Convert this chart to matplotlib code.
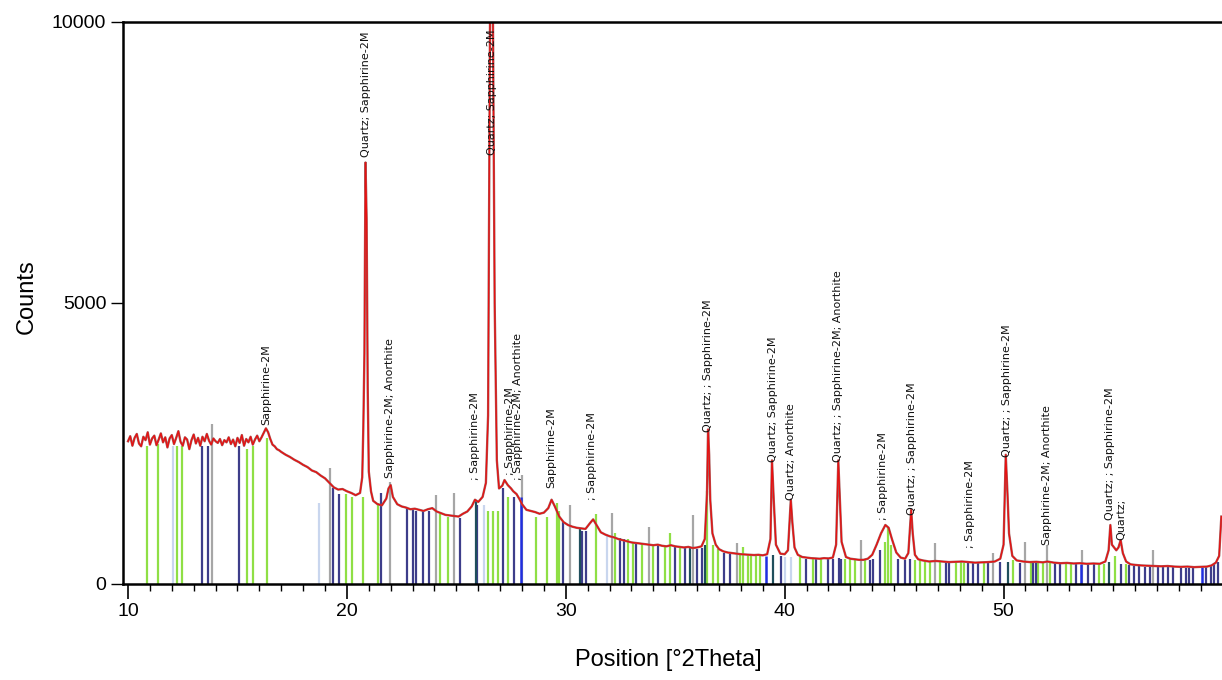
import matplotlib
matplotlib.use("Agg")
import matplotlib.pyplot as plt
from matplotlib.ticker import MultipleLocator, FixedLocator

# Measured profile (position in deg 2Theta, counts)
two_theta = [
    10.0, 10.1, 10.2, 10.3, 10.4, 10.5, 10.6, 10.7, 10.8, 10.9,
    11.0, 11.1, 11.2, 11.3, 11.4, 11.5, 11.6, 11.7, 11.8, 11.9,
    12.0, 12.1, 12.2, 12.3, 12.4, 12.5, 12.6, 12.7, 12.8, 12.9,
    13.0, 13.1, 13.2, 13.3, 13.4, 13.5, 13.6, 13.7, 13.8, 13.9,
    14.0, 14.1, 14.2, 14.3, 14.4, 14.5, 14.6, 14.7, 14.8, 14.9,
    15.0, 15.1, 15.2, 15.3, 15.4, 15.5, 15.6, 15.7, 15.8, 15.9,
    16.0, 16.1, 16.2, 16.3, 16.4, 16.5, 16.6, 16.7, 16.8, 16.9,
    17.0, 17.2, 17.4, 17.6, 17.8, 18.0, 18.2, 18.4, 18.6, 18.8,
    19.0, 19.2, 19.4, 19.6, 19.8, 20.0, 20.2, 20.4, 20.6, 20.7,
    20.75, 20.8, 20.85, 20.9, 20.95, 21.0, 21.1, 21.2, 21.4, 21.6,
    21.8, 21.9, 22.0, 22.1, 22.3, 22.5, 22.7, 22.9, 23.1, 23.3,
    23.5, 23.7, 23.9, 24.1, 24.3, 24.5, 24.7, 24.9, 25.1, 25.3,
    25.5, 25.7, 25.85, 26.0, 26.2, 26.35, 26.45, 26.55, 26.65, 26.75,
    26.85, 26.95, 27.1, 27.2, 27.35, 27.5, 27.6, 27.75, 27.9, 28.0,
    28.2, 28.4, 28.6, 28.8, 29.0, 29.2, 29.35, 29.5, 29.7, 29.9,
    30.1, 30.3, 30.5, 30.7, 30.9, 31.1, 31.25, 31.4, 31.6, 31.8,
    32.0, 32.2, 32.4, 32.6, 32.8, 33.0, 33.2, 33.4, 33.6, 33.8,
    34.0, 34.2, 34.4, 34.6, 34.8, 35.0, 35.2, 35.4, 35.6, 35.8,
    36.0, 36.2, 36.35, 36.45, 36.5, 36.55, 36.6, 36.7, 36.85, 37.0,
    37.2, 37.4, 37.6, 37.8, 38.0, 38.2, 38.4, 38.6, 38.8, 39.0,
    39.2, 39.35, 39.42, 39.5, 39.6, 39.8, 40.0, 40.15, 40.28, 40.35,
    40.45, 40.6, 40.8, 41.0, 41.2, 41.4, 41.6, 41.8, 42.0, 42.2,
    42.35, 42.45, 42.52, 42.6, 42.8, 43.0, 43.2, 43.4, 43.6, 43.8,
    44.0, 44.2, 44.4, 44.6, 44.75, 44.9, 45.1, 45.3, 45.5, 45.65,
    45.78, 45.85, 45.95, 46.1, 46.3, 46.6, 46.9, 47.2, 47.5, 47.8,
    48.1, 48.4, 48.7, 49.0, 49.3, 49.6, 49.85, 50.0, 50.1, 50.18,
    50.25, 50.4, 50.6, 50.9, 51.2, 51.5, 51.8, 52.0, 52.3, 52.6,
    52.9, 53.2, 53.5, 53.8, 54.1, 54.4, 54.65, 54.8, 54.88, 54.95,
    55.05, 55.15, 55.25, 55.35, 55.45, 55.6, 55.8, 56.0, 56.3, 56.6,
    56.9, 57.2, 57.5, 57.8, 58.1, 58.4, 58.7, 59.0, 59.3, 59.5,
    59.7, 59.85, 59.95,
]
counts = [
    2540, 2630, 2460, 2600, 2670, 2500, 2450, 2620, 2560, 2700,
    2480, 2590, 2640, 2470, 2570, 2680, 2520, 2610, 2430, 2590,
    2650, 2490, 2600, 2720, 2530, 2460, 2610, 2570, 2400, 2560,
    2660, 2500, 2600, 2460, 2620, 2540, 2670, 2550, 2480, 2590,
    2540, 2510, 2580, 2470, 2560, 2520, 2610, 2490, 2570, 2450,
    2600, 2510, 2650, 2460, 2580, 2520, 2620, 2480, 2570, 2640,
    2540, 2610, 2690, 2770, 2700, 2580, 2480, 2450, 2400, 2380,
    2350, 2300, 2260, 2210, 2170, 2120, 2080, 2020, 1990, 1930,
    1880, 1800, 1720, 1680, 1690, 1650, 1620, 1580, 1620, 1900,
    2800, 4100, 7500, 6500, 3500, 2000, 1650, 1480, 1420, 1400,
    1520, 1700, 1760, 1550, 1420, 1380, 1360, 1330, 1340, 1320,
    1300, 1330, 1350, 1290, 1260, 1230, 1220, 1210, 1200, 1250,
    1290, 1380, 1500, 1460, 1550, 1800, 3000, 11000, 11500, 5000,
    2200, 1700, 1750, 1850, 1760, 1700, 1650, 1600, 1500, 1420,
    1320, 1300, 1280, 1250, 1270, 1350, 1500, 1380, 1200, 1100,
    1050, 1020, 1000, 990, 980, 1080, 1150, 1050, 920, 880,
    850, 830, 800, 780, 760, 740, 730, 720, 710, 700,
    690, 700, 680, 670, 690, 670, 660, 650, 660, 640,
    650, 670, 800, 1600, 2750, 2300, 1500, 900, 700, 620,
    580, 560, 550, 540, 530, 525, 520, 515, 520, 510,
    530, 800, 2200, 1500, 700, 540, 530, 600, 1500, 1100,
    650, 520, 480, 470, 460, 455, 450, 460, 455, 470,
    700, 2200, 1500, 750, 480, 450, 440, 430, 430, 450,
    520, 700, 900, 1050, 1000, 800, 560, 470, 450, 550,
    1320, 900, 520, 440, 420, 400, 410, 400, 390, 395,
    400, 390, 380, 385, 390, 400, 450, 700, 2300, 1600,
    900, 500, 420, 400, 390, 395, 385, 400, 380, 370,
    375, 365, 370, 360, 365, 360, 400, 600, 1050, 700,
    650, 600, 650, 780, 550, 400, 350, 340, 330, 325,
    320, 315, 320, 310, 305, 310, 300, 305, 310, 330,
    380, 500, 1200,
]

# Reference pattern sticks, grouped by colour in the original
green_pos = [10.85, 11.36, 12.23, 12.45, 15.42, 15.69, 16.33, 19.95, 20.23, 20.73,
             21.42, 24.25, 24.63, 26.45, 26.68, 26.88, 27.37, 28.66, 29.12, 29.58,
             29.68, 31.4, 32.24, 32.84, 33.06, 33.46, 33.99, 34.52, 34.75, 35.2,
             36.45, 36.73, 36.95, 37.95, 38.1, 38.32, 38.48, 38.71, 38.89, 40.68,
             41.29, 41.67, 42.74, 42.97, 43.2, 43.65, 44.57, 44.72, 44.87, 45.94,
             46.16, 46.39, 46.62, 47.08, 47.84, 48.07, 48.17, 49.09, 50.42, 51.26,
             51.57, 51.8, 52.13, 52.86, 53.09, 54.38, 54.61, 55.07, 55.6]
green_h = [2450, 2500, 2450, 2450, 2400, 2450, 2600, 1600, 1550, 1550,
           1450, 1250, 1200, 1300, 1300, 1300, 1550, 1200, 1200, 1450,
           1300, 1250, 900, 800, 750, 720, 700, 680, 900, 650,
           1650, 700, 620, 560, 650, 540, 530, 530, 520, 480,
           460, 450, 450, 450, 430, 430, 750, 1000, 700, 430,
           420, 410, 400, 400, 390, 390, 380, 380, 420, 380,
           380, 380, 370, 360, 360, 350, 350, 500, 350]

navy_pos = [13.37, 13.67, 15.08, 19.37, 19.65, 21.54, 22.73, 23.0, 23.15, 23.46,
            23.76, 25.16, 25.95, 27.11, 27.63, 29.85, 30.76, 30.94, 32.47, 32.65,
            33.23, 34.22, 34.98, 35.43, 36.0, 36.2, 37.21, 37.49, 39.85, 40.99,
            41.45, 41.98, 42.2, 42.48, 42.59, 43.88, 44.03, 44.37, 45.17, 45.48,
            45.71, 47.35, 47.53, 48.37, 48.6, 48.83, 49.28, 49.82, 50.73, 51.34,
            51.49, 52.33, 52.59, 53.32, 53.85, 54.15, 55.37, 55.75, 55.98, 56.21,
            56.44, 56.67, 57.05, 57.27, 57.5, 57.73, 58.11, 58.34, 58.49, 58.64,
            59.25, 59.48, 59.63, 59.79]
navy_h = [2450, 2450, 2450, 1700, 1600, 1620, 1350, 1320, 1300, 1300,
          1300, 1180, 1400, 1700, 1550, 1100, 950, 940, 820, 800,
          720, 690, 660, 640, 630, 640, 560, 540, 500, 450,
          440, 440, 450, 460, 450, 430, 450, 600, 450, 430,
          440, 390, 390, 380, 380, 370, 380, 400, 380, 380,
          380, 370, 360, 350, 350, 350, 360, 330, 320, 320,
          310, 310, 300, 300, 300, 300, 290, 290, 290, 290,
          300, 320, 350, 400]

gray_pos = [13.82, 19.22, 21.96, 24.06, 24.9, 28.0, 30.21, 32.09, 33.8, 35.81,
            37.82, 43.5, 46.85, 49.51, 51.0, 51.98, 53.59, 56.85]
gray_h = [2850, 2060, 1810, 1580, 1620, 1940, 1400, 1260, 1010, 1230,
          730, 780, 730, 550, 750, 690, 600, 600]

lightblue_pos = [12.04, 18.72, 26.26, 31.87, 40.0, 40.3]
lightblue_h = [2450, 1450, 1400, 850, 480, 480]

blue_pos = [27.95, 39.13, 53.55, 59.07]
blue_h = [1550, 500, 350, 300]

teal_pos = [25.88, 30.64, 35.66, 36.35, 39.47, 50.2, 54.84]
teal_h = [1500, 980, 640, 700, 520, 400, 400]

# Peak labels: position, start height (counts), text
label_pos = [16.33, 20.85, 21.95, 25.85, 26.64, 27.45, 27.8, 29.35, 31.2, 36.5,
             39.45, 40.3, 42.45, 44.5, 45.8, 48.45, 50.15, 51.98, 54.88, 55.4]
label_base = [2830, 7600, 1890, 1850, 7630, 1940, 1850, 1700, 1500, 2700,
              2170, 1500, 2170, 1140, 1230, 640, 2260, 690, 1140, 780]
label_text = ["Sapphirine-2M", "Quartz; Sapphirine-2M", "Sapphirine-2M; Anorthite",
              "; Sapphirine-2M", "Quartz; Sapphirine-2M", "; Sapphirine-2M",
              "; Sapphirine-2M; Anorthite", "Sapphirine-2M", "; Sapphirine-2M",
              "Quartz; ; Sapphirine-2M", "Quartz; Sapphirine-2M", "Quartz; Anorthite",
              "Quartz; ; Sapphirine-2M; Anorthite", "; Sapphirine-2M",
              "Quartz; ; Sapphirine-2M", "; Sapphirine-2M", "Quartz; ; Sapphirine-2M",
              "Sapphirine-2M; Anorthite", "Quartz; ; Sapphirine-2M", "Quartz;"]

plt.rcParams["font.family"] = ["Liberation Sans", "DejaVu Sans"]

fig = plt.figure(figsize=(12.22, 6.8), dpi=100)
ax = fig.add_axes([123 / 1222, 1 - 584 / 680, 1 - 123 / 1222, (584 - 22) / 680])

# Stick pattern
ax.vlines(lightblue_pos, 0, lightblue_h, colors="#c9d6ee", lw=1.6)
ax.vlines(gray_pos, 0, gray_h, colors="#a6a6a6", lw=1.6)
ax.vlines(green_pos, 0, green_h, colors="#8fdf45", lw=1.6)
ax.vlines(navy_pos, 0, navy_h, colors="#3d3d8a", lw=1.6)
ax.vlines(teal_pos, 0, teal_h, colors="#1f4f5c", lw=1.6)
ax.vlines(blue_pos, 0, blue_h, colors="#1f2ee0", lw=1.8)

# Profile: brownish fit underneath, red measurement on top
ax.plot(two_theta, counts, color="#a85c5c", lw=1.7)
ax.plot(two_theta, counts, color="#e81010", lw=0.9)

for x, y, t in zip(label_pos, label_base, label_text):
    ax.text(x, y, t, rotation=90, ha="center", va="bottom", fontsize=8,
            family="DejaVu Sans", color="#111111", clip_on=True)

ax.set_xlim(9.77, 59.98)
ax.set_ylim(0, 10000)
ax.xaxis.set_major_locator(FixedLocator([10, 20, 30, 40, 50]))
ax.xaxis.set_minor_locator(MultipleLocator(1))
ax.yaxis.set_major_locator(FixedLocator([0, 5000, 10000]))
ax.tick_params(axis="x", which="major", length=11, width=1.2, pad=3, labelsize=14)
ax.tick_params(axis="x", which="minor", length=5, width=1.0)
ax.tick_params(axis="y", which="major", length=9, width=1.0, pad=3, labelsize=14)

for side in ["left", "bottom", "top"]:
    ax.spines[side].set_linewidth(1.8)
ax.spines["right"].set_visible(False)

ax.set_ylabel("Counts", fontsize=17)
ax.yaxis.set_label_coords(-0.078, 0.512)
ax.set_xlabel("Position [°2Theta]", fontsize=17)
ax.xaxis.set_label_coords(0.496, -0.115)

plt.savefig("out.png", dpi=100)
